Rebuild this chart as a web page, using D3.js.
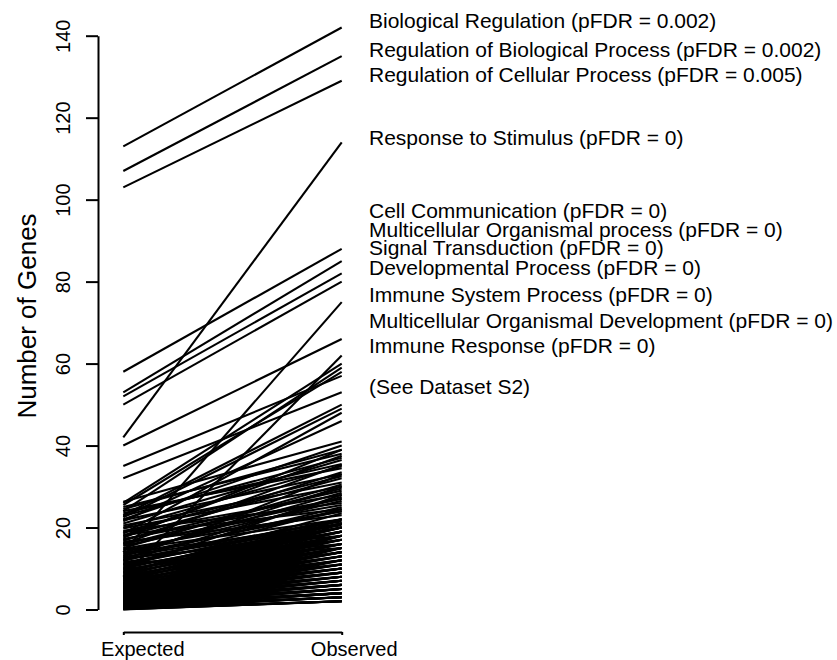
<!DOCTYPE html>
<html><head><meta charset="utf-8">
<script src="https://cdn.jsdelivr.net/npm/d3@7"></script>
<style>
body{margin:0;background:#fff}
text{font-family:"Liberation Sans",Arial,Helvetica,sans-serif;fill:#000}
</style>
</head><body>
<svg id="chart" width="837" height="660"></svg>
<script>
// ---------- data ----------
const categories = ["Expected", "Observed"];

// expected number of genes per GO term (left end of each line)
const expected = [
  113, 107, 103, 42, 58, 53, 52, 50, 14, 40,
  8, 26, 24, 25.5, 35, 32, 23, 22.5, 18.5, 21.5,
  26.3, 22, 17.5, 25, 18, 21, 16, 24, 12, 19, 13, 17, 10, 15.5, 12.5, 9, 14, 11, 20.5, 15, 23.5, 16.8, 13.5, 11.8,
  14.5, 13.2, 16.2, 18.8, 19.8, 21.8, 22.8, 24.5, 20, 17.8, 15.8, 14.8, 19.2, 12.8, 13.8, 16.5, 18.2, 17.2,
  10.5, 11.5, 12.2, 9.8, 10.9, 12.5, 11.2,
  0.1, 0.2, 0.3, 0.1, 0.4, 0.0,
  0.2, 0.5, 0.3, 0.7, 0.4, 0.9, 0.6,
  0.4, 0.8, 1.1, 0.6, 1.3, 0.5, 0.3,
  0.7, 1.2, 1.6, 0.9, 1.9, 1.4, 0.8,
  1.0, 1.5, 2.1, 1.8, 2.4, 1.2,
  1.3, 2.0, 2.6, 1.7, 2.9, 2.3,
  1.6, 2.5, 3.1, 2.2, 3.4, 1.9,
  2.0, 2.8, 3.6, 3.2, 4.1,
  2.4, 3.3, 4.0, 2.9, 4.6, 3.7,
  2.7, 3.8, 4.4, 5.1, 3.2,
  3.1, 4.2, 5.0, 5.6, 3.6,
  3.4, 4.7, 5.5, 6.1, 4.1,
  3.9, 5.2, 6.0, 6.6, 4.6,
  4.3, 5.7, 6.5, 7.2, 5.0,
  4.8, 6.2, 7.0, 7.8, 5.5,
  5.2, 6.8, 7.6, 8.3,
  5.8, 7.3, 8.1, 9.0, 6.4,
  6.3, 7.9, 8.7, 9.6,
  6.9, 8.5, 9.4, 10.3, 7.6,
  7.5, 9.1, 10.0, 11.2,
  8.2, 10.8, 12.0,
  2.5, 1.5, 3.0, 1.0, 4.0
];

// observed number of genes per GO term (right end of each line)
const observed = [
  142, 135, 129, 114, 88, 85, 82, 80, 75, 66,
  62, 60, 59, 58, 57, 53, 50, 49, 48, 46,
  41, 40, 39, 38, 37.5, 36.5, 35.3, 34.5, 33, 32.5, 30, 29, 28, 27, 25, 23.5, 26.5, 24.5, 31, 30.5, 35.5, 33.5, 28.5, 27.5,
  22, 24, 25.5, 28, 30, 33, 37, 39, 35, 32, 29.5, 24, 26, 21.5, 20.5, 23, 24.5, 27,
  19, 20, 21, 17, 16, 18, 15,
  2, 2, 2, 2, 2, 2,
  3, 3, 3, 3, 3, 3, 3,
  4, 4, 4, 4, 4, 4, 4,
  5, 5, 5, 5, 5, 5, 5,
  6, 6, 6, 6, 6, 6,
  7, 7, 7, 7, 7, 7,
  8, 8, 8, 8, 8, 8,
  9, 9, 9, 9, 9,
  10, 10, 10, 10, 10, 10,
  11, 11, 11, 11, 11,
  12, 12, 12, 12, 12,
  13, 13, 13, 13, 13,
  14, 14, 14, 14, 14,
  15, 15, 15, 15, 15,
  16, 16, 16, 16, 16,
  17, 17, 17, 17,
  18, 18, 18, 18, 18,
  19, 19, 19, 19,
  20, 20, 20, 20, 20,
  21, 21, 21, 21,
  22, 22, 22,
  18, 15, 21, 12, 22
];

const yTicks = [0, 20, 40, 60, 80, 100, 120, 140];

const termLabels = [
  "Biological Regulation (pFDR = 0.002)",
  "Regulation of Biological Process (pFDR = 0.002)",
  "Regulation of Cellular Process (pFDR = 0.005)",
  "Response to Stimulus (pFDR = 0)",
  "Cell Communication (pFDR = 0)",
  "Multicellular Organismal process (pFDR = 0)",
  "Signal Transduction (pFDR = 0)",
  "Developmental Process (pFDR = 0)",
  "Immune System Process (pFDR = 0)",
  "Multicellular Organismal Development (pFDR = 0)",
  "Immune Response (pFDR = 0)",
  "(See Dataset S2)"
];
// label anchor (baseline) in axis units
const termLabelAt = [141.9, 134.9, 128.8, 113.3, 95.4, 90.9, 86.5, 81.6, 75.1, 68.6, 62.5, 52.7];

// ---------- layout ----------
const svg = d3.select("#chart");
const y = d3.scaleLinear().domain([0, 140]).range([609.5, 35.7]);
const x = d3.scalePoint().domain(categories).range([123.3, 341.7]).padding(0);
const axisX = 98;
const bottomY = 632;
const catLabelShift = {"Expected": 19, "Observed": 12};
const lineW = 2.1;

// lines
const rows = expected.map((e, i) => ({e: e, o: observed[i]}));
svg.append("g")
  .selectAll("line")
  .data(rows)
  .join("line")
  .attr("x1", x("Expected"))
  .attr("x2", x("Observed"))
  .attr("y1", d => y(d.e))
  .attr("y2", d => y(d.o))
  .attr("stroke", "#000")
  .attr("stroke-width", lineW)
  .attr("stroke-linecap", "butt");

// y axis
const ya = svg.append("g")
  .attr("transform", `translate(${axisX},0)`)
  .call(d3.axisLeft(y).tickValues(yTicks).tickSize(12).tickSizeOuter(0).tickPadding(0));
ya.select(".domain").attr("stroke", "#000").attr("stroke-width", 2);
ya.selectAll(".tick line").attr("stroke", "#000").attr("stroke-width", 2);
ya.selectAll(".tick text")
  .attr("x", null).attr("dy", null)
  .attr("text-anchor", "middle")
  .attr("transform", "translate(-28,0) rotate(-90)")
  .style("font-size", "20px")
  .style("font-family", '"Liberation Sans", Arial, sans-serif');

// y title
svg.append("text")
  .attr("transform", "translate(36,316) rotate(-90)")
  .attr("text-anchor", "middle")
  .style("font-size", "26px")
  .text("Number of Genes");

// bottom axis
const xa = svg.append("g")
  .attr("transform", `translate(0,${bottomY})`)
  .call(d3.axisBottom(x).tickSize(3).tickSizeOuter(0));
xa.select(".domain").attr("stroke", "#000").attr("stroke-width", 2);
xa.selectAll(".tick line").attr("stroke", "#000").attr("stroke-width", 2);
xa.selectAll(".tick text")
  .attr("y", 24).attr("dy", null)
  .attr("x", d => catLabelShift[d])
  .attr("text-anchor", "middle")
  .style("font-size", "20px")
  .style("font-family", '"Liberation Sans", Arial, sans-serif');

// term labels
svg.append("g")
  .selectAll("text")
  .data(termLabels)
  .join("text")
  .attr("x", 369)
  .attr("y", (d, i) => y(termLabelAt[i]))
  .style("font-size", "21px")
  .text(d => d);
</script>
</body></html>
